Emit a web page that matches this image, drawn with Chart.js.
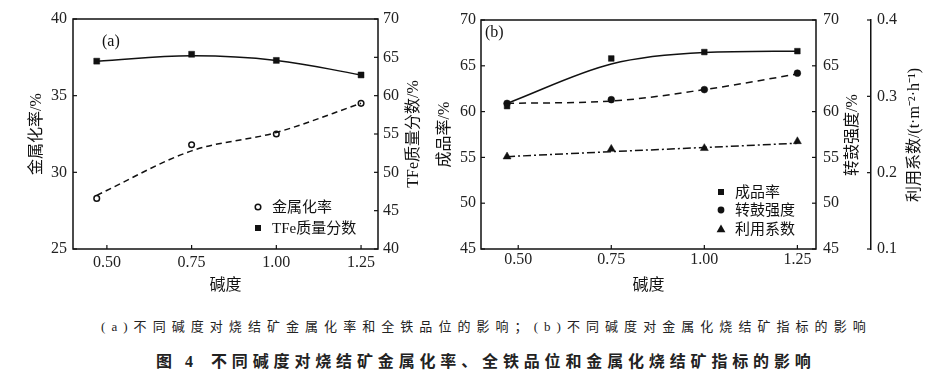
<!DOCTYPE html>
<html><head><meta charset="utf-8">
<script src="https://cdn.jsdelivr.net/npm/chart.js@4/dist/chart.umd.min.js"></script>
<style>
html,body{margin:0;padding:0;background:#fff;width:940px;height:381px;overflow:hidden;}
#wrap{position:relative;width:940px;height:381px;background:#fff;}
canvas{position:absolute;top:0;}
#c1{left:0;}
#c2{left:420px;}
.cap{position:absolute;white-space:nowrap;color:#222;font-family:'Liberation Serif','Noto Sans CJK SC',serif;}
</style></head><body>
<div id="wrap">
<canvas id="c1" width="460" height="300"></canvas>
<canvas id="c2" width="520" height="300"></canvas>
<div class="cap" style="left:101px;top:318px;font-size:13px;line-height:18px;letter-spacing:6.05px;">(a)不同碱度对烧结矿金属化率和全铁品位的影响；(b)不同碱度对金属化烧结矿指标的影响</div>
<div class="cap" style="left:156px;top:352px;font-size:16px;line-height:20px;font-weight:bold;letter-spacing:4.5px;">图 4</div>
<div class="cap" style="left:211px;top:352px;font-size:16px;line-height:20px;font-weight:bold;letter-spacing:4.85px;">不同碱度对烧结矿金属化率、全铁品位和金属化烧结矿指标的影响</div>
</div>
<script>
// ---------- data ----------
const basicity = [0.47, 0.75, 1.00, 1.25];
const basicityTicks = [0.50, 0.75, 1.00, 1.25];
// (a)
const metalRate = [28.3, 31.8, 32.5, 34.5];
const metalRateFit = [28.5, 31.4, 32.6, 34.5];
const tfeGrade = [64.5, 65.4, 64.6, 62.7];
const tfeGradeFit = [64.5, 65.2, 64.6, 62.7];
// (b)
const productYield = [60.6, 65.8, 66.5, 66.6];
const productYieldFit = [60.9, 65.2, 66.45, 66.6];
const drumStrength = [60.9, 61.3, 62.4, 64.2];
const drumStrengthFit = [60.9, 61.15, 62.4, 64.1];
const utilCoef = [0.221, 0.231, 0.232, 0.241];
const utilCoefFit = [0.221, 0.2275, 0.233, 0.2385];
const utilTicks = [0.1, 0.2, 0.3, 0.4];

const INK = '#111';
const SERIF = "'Liberation Serif','Times New Roman',serif";
const MIXED = "'Liberation Serif','Noto Sans CJK SC',serif";
const pts = (ys) => basicity.map((x, i) => ({x: x, y: ys[i]}));

function drawMarker(ctx, style, x, y) {
  ctx.save();
  ctx.fillStyle = INK; ctx.strokeStyle = INK; ctx.lineWidth = 1.5;
  ctx.beginPath();
  if (style === 'rect') { ctx.rect(x - 3, y - 3, 6, 6); ctx.fill(); }
  else if (style === 'ocircle') { ctx.arc(x, y, 2.8, 0, Math.PI * 2); ctx.fillStyle = '#fff'; ctx.fill(); ctx.stroke(); }
  else if (style === 'circle') { ctx.arc(x, y, 3.4, 0, Math.PI * 2); ctx.fill(); }
  else if (style === 'triangle') { ctx.moveTo(x, y - 4.6); ctx.lineTo(x + 4.4, y + 3.2); ctx.lineTo(x - 4.4, y + 3.2); ctx.closePath(); ctx.fill(); }
  ctx.restore();
}

function makeFrame(cfg) {
  return {
    id: 'frame',
    afterDraw(chart) {
      const ctx = chart.ctx, a = chart.chartArea;
      ctx.save();
      ctx.strokeStyle = INK; ctx.lineWidth = 1.5;
      ctx.strokeRect(a.left, a.top, a.right - a.left, a.bottom - a.top);
      ctx.lineWidth = 1.2;
      const L = 4;
      Object.values(chart.scales).forEach(s => {
        s.ticks.forEach(t => {
          const p = s.getPixelForValue(t.value);
          ctx.beginPath();
          if (s.axis === 'x') { ctx.moveTo(p, a.bottom); ctx.lineTo(p, a.bottom - L); }
          else if (s.position === 'left') { ctx.moveTo(a.left, p); ctx.lineTo(a.left + L, p); }
          else if (s.id === 'y3') { ctx.moveTo(s.left, p); ctx.lineTo(s.left - L, p); }
          else { ctx.moveTo(a.right, p); ctx.lineTo(a.right - L, p); }
          ctx.stroke();
        });
      });
      ctx.fillStyle = INK;
      cfg.titles.forEach(t => {
        ctx.save();
        ctx.translate(t.x, t.y); ctx.rotate(-Math.PI / 2);
        ctx.font = '16px ' + MIXED; ctx.textAlign = 'center'; ctx.textBaseline = 'middle';
        ctx.fillText(t.text, 0, 0);
        ctx.restore();
      });
      ctx.font = '16px ' + SERIF; ctx.textAlign = 'left'; ctx.textBaseline = 'middle';
      ctx.fillText(cfg.panel.text, cfg.panel.x, cfg.panel.y);
      cfg.legend.forEach(e => {
        drawMarker(ctx, e.style, e.x, e.y);
        ctx.fillStyle = INK;
        ctx.font = '15px ' + MIXED; ctx.textAlign = 'left'; ctx.textBaseline = 'middle';
        ctx.fillText(e.label, e.x + 14, e.y + 1);
      });
      ctx.restore();
    }
  };
}

function xScale(pad) {
  return {
    type: 'linear', position: 'bottom', min: 0.4, max: 1.3,
    afterBuildTicks: s => { s.ticks = basicityTicks.map(v => ({value: v})); },
    afterFit: s => { s.height = 51; },
    grid: {display: false, drawTicks: false}, border: {display: false},
    ticks: {font: {family: SERIF, size: 16}, color: '#222', padding: pad, maxRotation: 0, autoSkip: false,
            callback: v => Number(v).toFixed(2)},
    title: {display: true, text: '碱度', color: INK, font: {family: MIXED, size: 16}, padding: {top: 0, bottom: 5}}
  };
}
function yScale(pos, min, max, width, pad, extra) {
  return Object.assign({
    type: 'linear', position: pos, min: min, max: max,
    afterFit: s => { s.width = width; },
    grid: {display: false, drawTicks: false}, border: {display: false},
    ticks: {font: {family: SERIF, size: 16}, color: '#222', padding: pad, stepSize: 5}
  }, extra || {});
}
const lineDS = (data, yAxisID, dash, extra) => Object.assign({
  data: data, yAxisID: yAxisID, showLine: true, pointRadius: 0, borderColor: INK,
  borderWidth: 1.5, borderDash: dash, fill: false
}, extra || {});
const markDS = (data, yAxisID, style, r, bg) => ({
  data: data, yAxisID: yAxisID, showLine: false, pointStyle: style, pointRadius: r,
  pointBackgroundColor: bg, pointBorderColor: INK, pointBorderWidth: style === 'circle' && bg === '#fff' ? 1.5 : 0.5
});

// ---------- chart (a) ----------
new Chart(document.getElementById('c1'), {
  type: 'scatter',
  data: {datasets: [
    lineDS(pts(metalRateFit), 'y', [6, 4], {cubicInterpolationMode: 'monotone'}),
    markDS(pts(metalRate), 'y', 'circle', 2.8, '#fff'),
    lineDS(pts(tfeGradeFit), 'y1', [], {tension: 0.4}),
    markDS(pts(tfeGrade), 'y1', 'rect', 4.2, INK)
  ]},
  options: {
    responsive: false, animation: false,
    layout: {padding: {top: 19, left: 0, right: 0, bottom: 0}},
    plugins: {legend: {display: false}, tooltip: {enabled: false}},
    scales: {
      x: xScale(4),
      y: yScale('left', 25, 40, 73, 6, {title: {display: true, text: '金属化率/%', color: INK, font: {family: MIXED, size: 16}, padding: {top: 27, bottom: 0}}}),
      y1: yScale('right', 40, 70, 82, 5)
    }
  },
  plugins: [makeFrame({
    titles: [{text: 'TFe质量分数/%', x: 414, y: 134}],
    panel: {text: '(a)', x: 102, y: 42},
    legend: [
      {style: 'ocircle', label: '金属化率', x: 258, y: 207},
      {style: 'rect', label: 'TFe质量分数', x: 258, y: 228}
    ]
  })]
});

// ---------- chart (b) ----------
new Chart(document.getElementById('c2'), {
  type: 'scatter',
  data: {datasets: [
    lineDS(pts(productYieldFit), 'y', [], {cubicInterpolationMode: 'monotone'}),
    markDS(pts(productYield), 'y', 'rect', 4.0, INK),
    lineDS(pts(drumStrengthFit), 'y2', [7, 5], {cubicInterpolationMode: 'monotone'}),
    markDS(pts(drumStrength), 'y2', 'circle', 3.4, INK),
    lineDS(pts(utilCoefFit), 'y3', [8, 3, 2, 3], {tension: 0}),
    markDS(pts(utilCoef), 'y3', 'triangle', 4.6, INK)
  ]},
  options: {
    responsive: false, animation: false,
    layout: {padding: {top: 20, left: 0, right: 0, bottom: 0}},
    plugins: {legend: {display: false}, tooltip: {enabled: false}},
    scales: {
      x: xScale(1.5),
      y: yScale('left', 45, 70, 61, 5, {title: {display: true, text: '成品率/%', color: INK, font: {family: MIXED, size: 16}, padding: {top: 15.5, bottom: 0}}}),
      y2: yScale('right', 45, 70, 55, 7, {weight: 0}),
      y3: {
        type: 'linear', position: 'right', weight: 1, min: 0.1, max: 0.4,
        afterBuildTicks: s => { s.ticks = utilTicks.map(v => ({value: v})); },
        afterFit: s => { s.width = 69; },
        grid: {display: false, drawTicks: false},
        border: {display: true, color: INK, width: 1.5},
        ticks: {font: {family: SERIF, size: 16}, color: '#222', padding: 6, callback: v => Number(v).toFixed(1)}
      }
    }
  },
  plugins: [makeFrame({
    titles: [{text: '转鼓强度/%', x: 433, y: 135}, {text: '利用系数/(t·m⁻²·h⁻¹)', x: 495, y: 135}],
    panel: {text: '(b)', x: 65, y: 33},
    legend: [
      {style: 'rect', label: '成品率', x: 301, y: 192},
      {style: 'circle', label: '转鼓强度', x: 301, y: 210},
      {style: 'triangle', label: '利用系数', x: 301, y: 229}
    ]
  })]
});
</script>
</body></html>
